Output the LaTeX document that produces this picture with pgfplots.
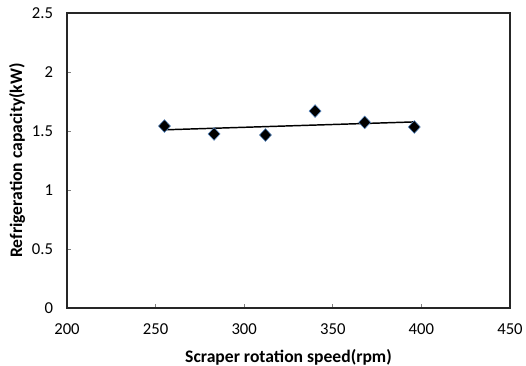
\documentclass[border=0pt]{standalone}
\usepackage{pgfplots}
\pgfplotsset{compat=1.18}
\usepackage{fontspec}
\setmainfont{Carlito}
\definecolor{mkedge}{RGB}{90,140,200}
\begin{document}
\begin{tikzpicture}
\begin{axis}[
  scale only axis,
  width=332.25pt, height=221.25pt,
  xmin=200, xmax=450, ymin=0, ymax=2.5,
  xtick={200,250,...,450},
  ytick={0,0.5,...,2.5},
  xtick pos=bottom, ytick pos=left,
  axis line style={black!85, line width=1.1pt},
  tick style={black!50, line width=0.5pt},
  tick align=inside,
  major tick length=3pt,
  /pgf/number format/assume math mode=true,
  yticklabel style={/pgf/number format/fixed, /pgf/number format/precision=1, font=\fontsize{12.5}{14}\selectfont, xshift=-7pt},
  xticklabel style={font=\fontsize{12.5}{14}\selectfont, yshift=-8pt},
  xlabel={\textbf{Scraper rotation speed(rpm)}},
  ylabel={\textbf{Refrigeration capacity(kW)}},
  label style={font=\fontsize{13.2}{15}\selectfont},
  xlabel style={at={(axis description cs:0.5,0)}, anchor=center, yshift=-37pt},
  ylabel style={at={(axis description cs:0,0.5)}, anchor=center, yshift=37.5pt},
  clip=false,
]
\addplot[black, line width=1.1pt, no marks] coordinates {(255,1.510) (396,1.577)};
\addplot[only marks, mark=diamond*, mark size=4.8pt, mark options={fill=black, draw=mkedge, line width=0.4pt, xscale=1.25}]
 coordinates {(255,1.542) (283,1.475) (312,1.466) (340,1.669) (368,1.573) (396,1.534)};
\end{axis}
\pgfresetboundingbox
\path[use as bounding box] (-50.25pt,-42.75pt) rectangle (344.25pt,231pt);
\end{tikzpicture}
\end{document}
